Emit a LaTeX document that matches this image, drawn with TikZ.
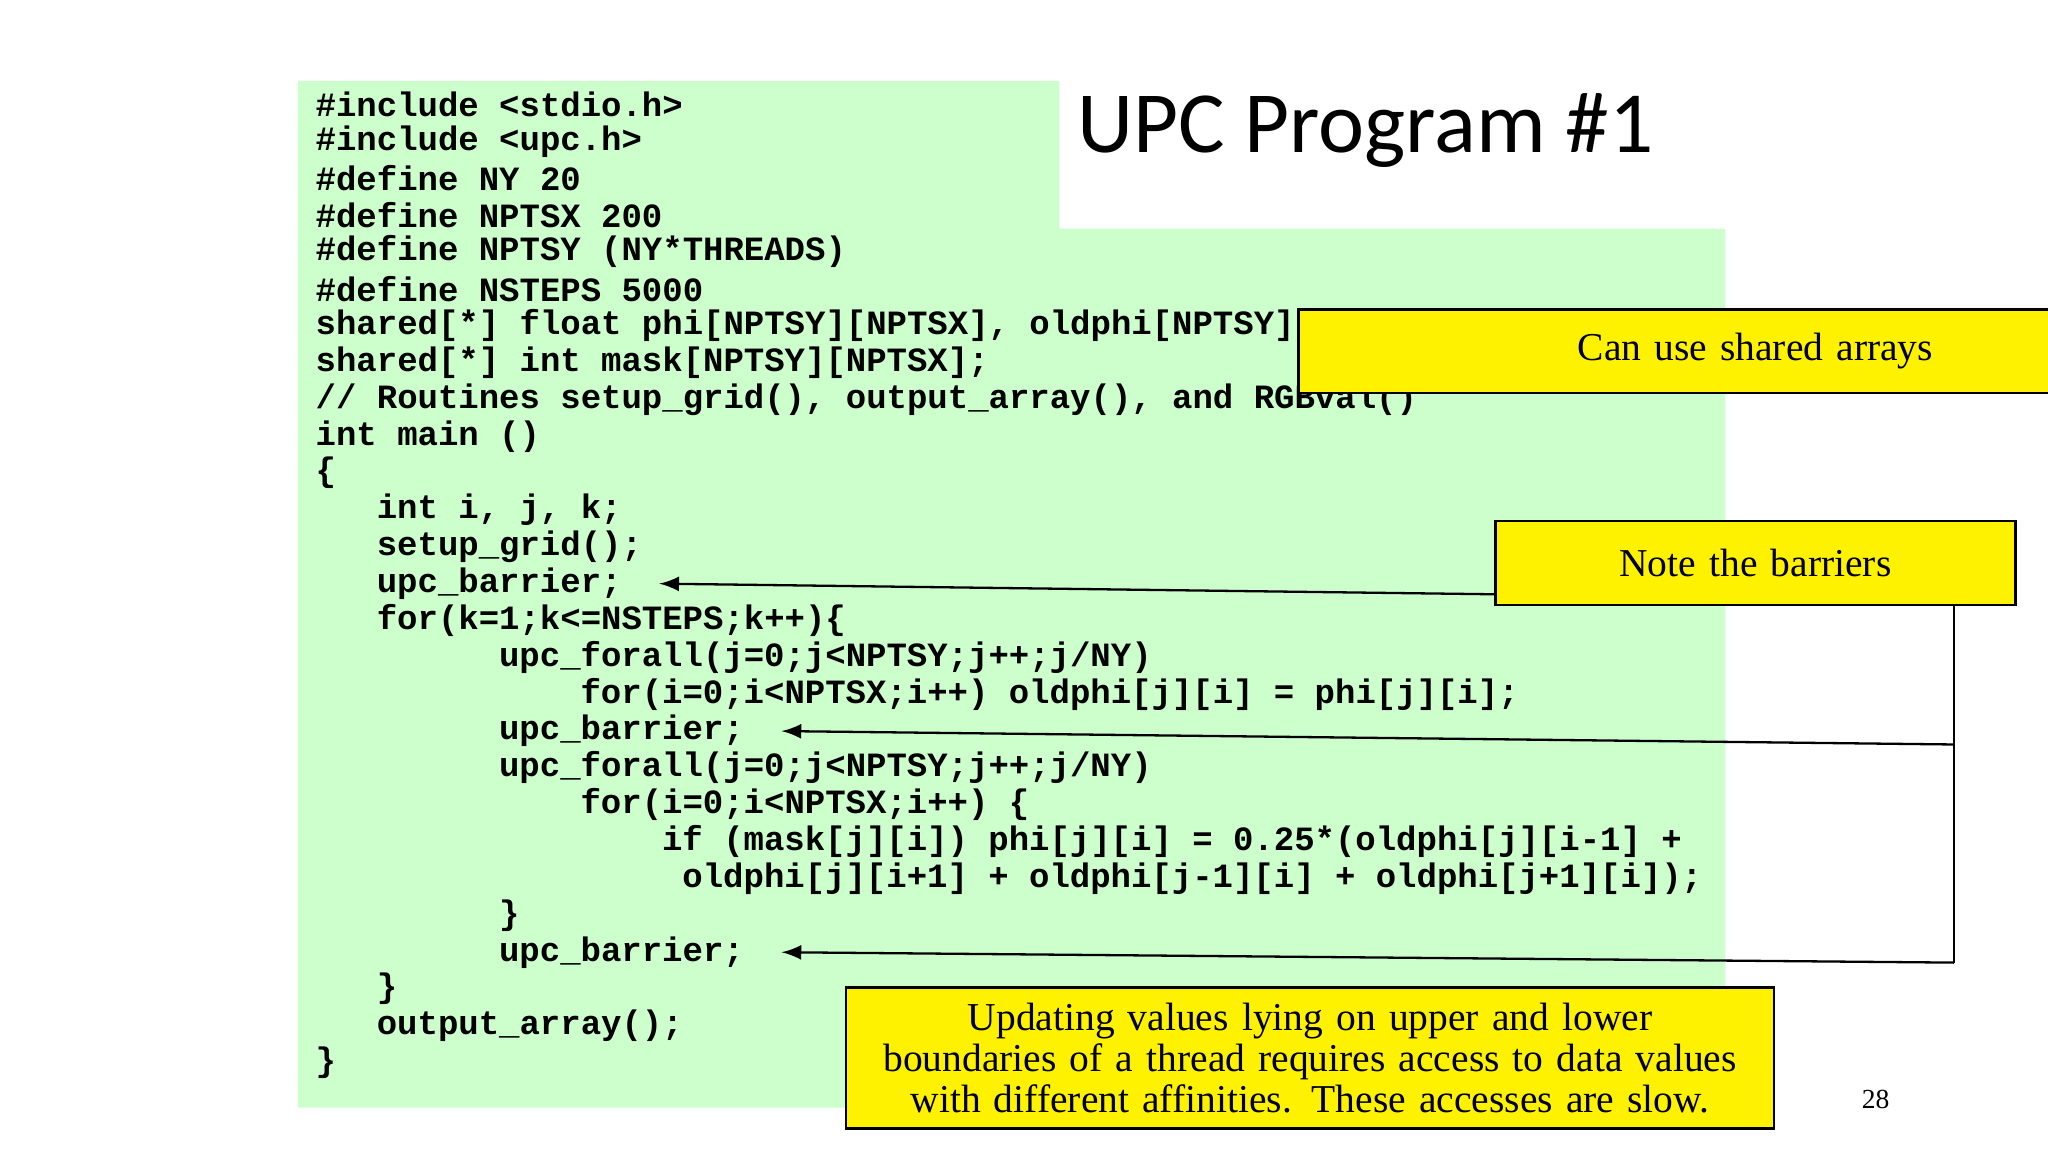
\documentclass[tikz,border=0pt]{standalone}
\usepackage{fontspec}
\setmainfont{Liberation Serif}
\setmonofont{Liberation Mono}
\newfontfamily\titlefont{Carlito}
\begin{document}
\begin{tikzpicture}[x=0.01cm,y=-0.01cm,
  code/.style={anchor=west,inner sep=0pt,font=\ttfamily\bfseries\fontsize{7.4pt}{8pt}\selectfont},
  note/.style={draw=black,fill=yellow,line width=0.5pt,inner sep=0pt,font=\fontsize{8.6pt}{8.8pt}\selectfont,align=center},
  arr/.style={-latex,line width=0.5pt}]
\useasboundingbox[fill=white] (0,0) rectangle (1568,882);
\fill[green!20] (228,62) -- (811,62) -- (811,175) -- (1321,175) -- (1321,848) -- (228,848) -- cycle;
\node[anchor=west,font=\titlefont\fontsize{19pt}{20pt}\selectfont,inner sep=0pt] (title) at (824,100) {UPC Program \#1};
\node[font=\fontsize{6pt}{7pt}\selectfont] (pg) at (1436,842) {28};
\newcommand{\cl}[3]{\node[code] (l#1) at ({241+#2*15.6},{80+(#1-1)*28.22}) {#3};}
\cl{1}{0}{\#include <stdio.h>}
\cl{2}{0}{\#include <upc.h>}
\cl{3}{0}{\#define NY 20}
\cl{4}{0}{\#define NPTSX 200}
\cl{5}{0}{\#define NPTSY (NY*THREADS)}
\cl{6}{0}{\#define NSTEPS 5000}
\cl{7}{0}{shared[*] float phi[NPTSY][NPTSX], oldphi[NPTSY][NPTSX];}
\cl{8}{0}{shared[*] int mask[NPTSY][NPTSX];}
\cl{9}{0}{// Routines setup\_grid(), output\_array(), and RGBval()}
\cl{10}{0}{int main ()}
\cl{11}{0}{\{}
\cl{12}{3}{int i, j, k;}
\cl{13}{3}{setup\_grid();}
\cl{14}{3}{upc\_barrier;}
\cl{15}{3}{for(k=1;k<=NSTEPS;k++)\{}
\cl{16}{9}{upc\_forall(j=0;j<NPTSY;j++;j/NY)}
\cl{17}{13}{for(i=0;i<NPTSX;i++) oldphi[j][i] = phi[j][i];}
\cl{18}{9}{upc\_barrier;}
\cl{19}{9}{upc\_forall(j=0;j<NPTSY;j++;j/NY)}
\cl{20}{13}{for(i=0;i<NPTSX;i++) \{}
\cl{21}{17}{if (mask[j][i]) phi[j][i] = 0.25*(oldphi[j][i-1] +}
\cl{22}{18}{oldphi[j][i+1] + oldphi[j-1][i] + oldphi[j+1][i]);}
\cl{23}{9}{\}}
\cl{24}{9}{upc\_barrier;}
\cl{25}{3}{\}}
\cl{26}{3}{output\_array();}
\cl{27}{0}{\}}
\node[note,minimum width=398\pgflinewidth,text width=3.9cm,minimum height=0.64cm] (n1) at (1344,269) {Can use shared arrays};
\node[note,text width=3.98cm,minimum height=0.64cm] (n2) at (1344,431) {Note the barriers};
\node[note,text width=7.1cm,minimum height=1.08cm,font=\fontsize{8.6pt}{8.9pt}\selectfont] (n3) at (1003,810) {Updating values lying on upper and lower\\boundaries of a thread requires access to data values\\with different affinities. These accesses are slow.};
\coordinate (b1) at (1496,570);
\coordinate (b2) at (1496,737);
\draw[arr] (n2.west |- 0,455) -- ([xshift=8pt]l14.east);
\draw[line width=0.5pt] (n2.south -| b1) -- (b2);
\draw[arr] (b1) -- ([xshift=8pt]l18.east);
\draw[arr] (b2) -- ([xshift=8pt]l24.east);
\end{tikzpicture}
\end{document}
